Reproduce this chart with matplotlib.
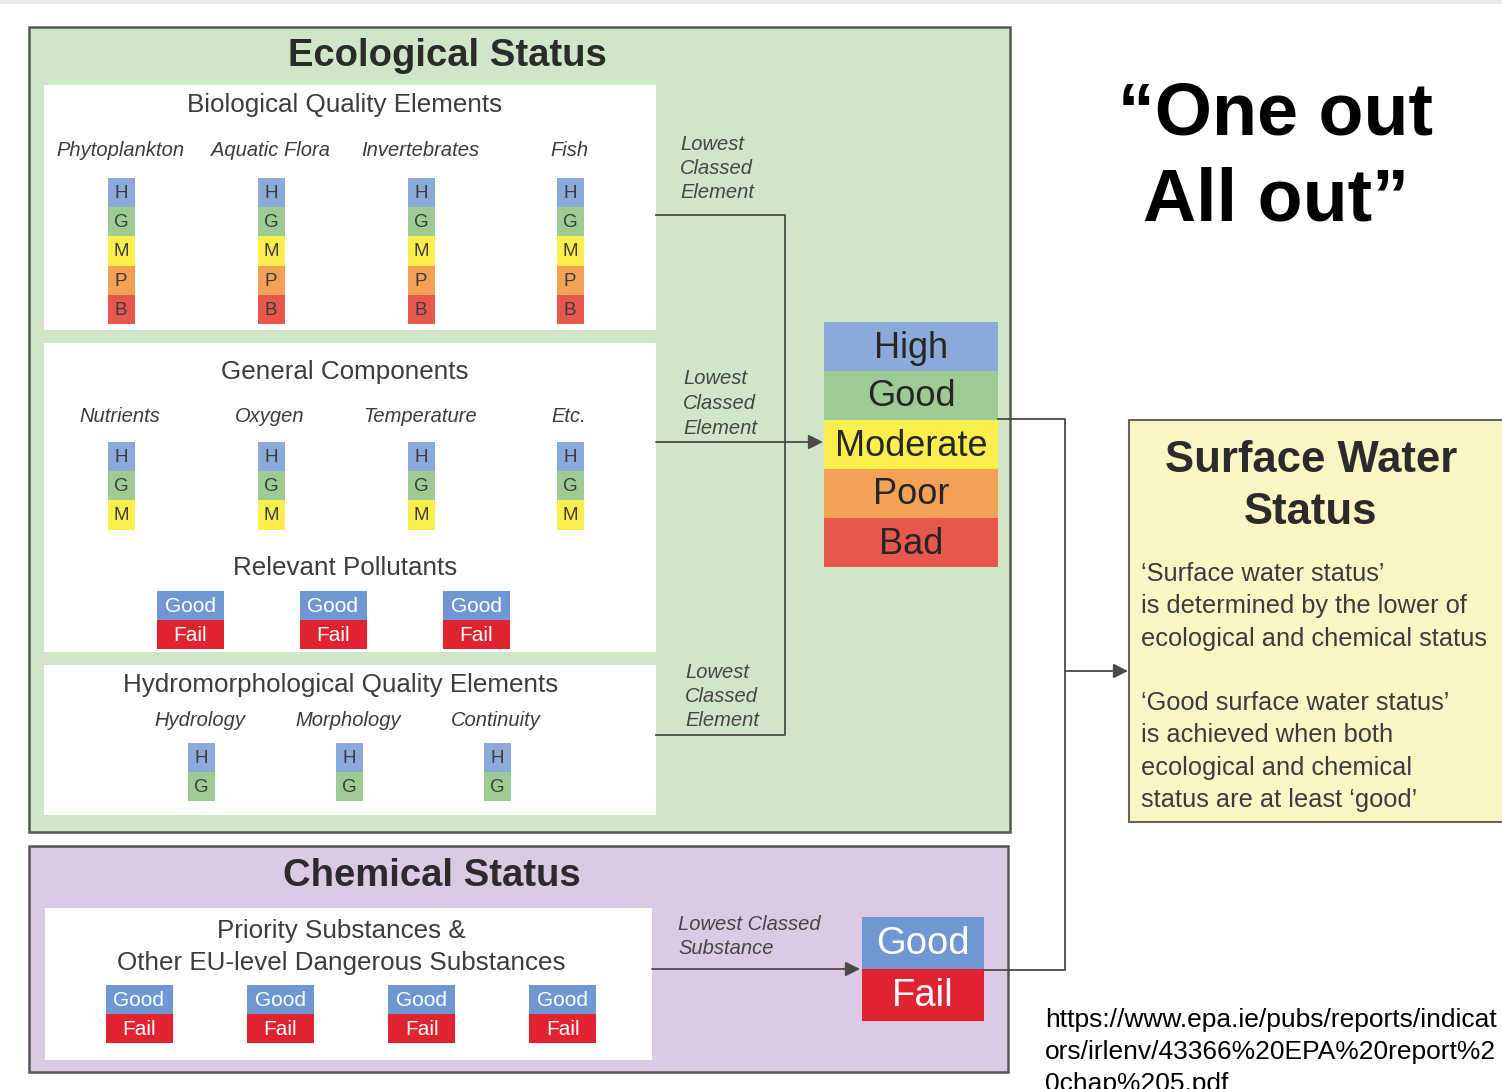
import matplotlib.pyplot as plt
from matplotlib.patches import Rectangle

# grades and labels
grades = ["H", "G", "M", "P", "B"]
grade_colors = ["#8caad9", "#9dcb93", "#fbee4c", "#f3a255", "#e7574c"]
status_classes = ["High", "Good", "Moderate", "Poor", "Bad"]

bio_elements = ["Phytoplankton", "Aquatic Flora", "Invertebrates", "Fish"]
general_elements = ["Nutrients", "Oxygen", "Temperature", "Etc."]
n_general_grades = 3
pollutant_count = 3
hydro_elements = ["Hydrology", "Morphology", "Continuity"]
n_hydro_grades = 2
substance_count = 4
pass_fail = ["Good", "Fail"]
pass_fail_colors = ["#6f97d3", "#e0232f"]

swm_title = ["Surface Water", "Status"]
swm_text1 = ["\u2018Surface water status\u2019", "is determined by the lower of",
             "ecological and chemical status"]
swm_text2 = ["\u2018Good surface water status\u2019", "is achieved when both",
             "ecological and chemical", "status are at least \u2018good\u2019"]
slogan = ["\u201cOne out", "All out\u201d"]
url_lines = ["https://www.epa.ie/pubs/reports/indicat",
             "ors/irlenv/43366%20EPA%20report%2", "0chap%205.pdf"]

plt.rcParams['font.family'] = ['Liberation Sans', 'DejaVu Sans']

W, H = 1502, 1089
fig = plt.figure(figsize=(W / 100, H / 100), dpi=100)
ax = fig.add_axes([0, 0, 1, 1])
ax.set_xlim(0, W)
ax.set_ylim(H, 0)
ax.axis('off')

dark = "#2b2b2b"
mid = "#3c3c3c"
line_c = "#4a4a4a"
sub_fs = 18.7


def box(x0, y0, x1, y1, fc, ec="none", lw=0, z=1):
    ax.add_patch(Rectangle((x0, y0), x1 - x0, y1 - y0, facecolor=fc,
                           edgecolor=ec, linewidth=lw, zorder=z))


def stack(cx, y0, n, cell_w=27, cell_h=29.2):
    for i in range(n):
        box(cx - cell_w / 2, y0 + i * cell_h, cx + cell_w / 2, y0 + (i + 1) * cell_h,
            grade_colors[i], z=3)
        ax.text(cx, y0 + (i + 0.5) * cell_h + 1, grades[i], ha='center', va='center',
                fontsize=13.5, color=mid, zorder=4)


def good_fail(cx, y0, w=67, h=29, fs=15):
    for i, lab in enumerate(pass_fail):
        box(cx - w / 2, y0 + i * h, cx + w / 2, y0 + (i + 1) * h, pass_fail_colors[i], z=3)
        ax.text(cx, y0 + (i + 0.5) * h + 1, lab, ha='center', va='center',
                fontsize=fs, color="white", zorder=4)


def arrow(x0, y0, x1, y1):
    ax.annotate("", xy=(x1, y1), xytext=(x0, y0),
                arrowprops=dict(arrowstyle='-|>', color=line_c, lw=1.3,
                                mutation_scale=22, shrinkA=0, shrinkB=0), zorder=5)


ax.add_patch(Rectangle((0, 0), W, 4, facecolor="#ececec", edgecolor="none", zorder=0))

# ecological status panel
box(29, 27, 1010, 832, "#d0e6c9", ec="#555555", lw=1.8)
ax.text(447, 56, "Ecological Status", ha='center', va='center', fontsize=27.5,
        fontweight='bold', color=dark, zorder=4)

col_x = [120, 270, 420, 569]

# biological
box(44, 85, 656, 330, "white", z=2)
ax.text(345, 105, "Biological Quality Elements", ha='center', va='center',
        fontsize=sub_fs, color=mid, zorder=4)
for cx, name in zip(col_x, bio_elements):
    ax.text(cx, 150, name, ha='center', va='center', fontsize=14.5,
            style='italic', color=mid, zorder=4)
    stack(cx + 1, 178, len(grades))

# general components
box(44, 343, 656, 652, "white", z=2)
ax.text(345, 372, "General Components", ha='center', va='center',
        fontsize=sub_fs, color=mid, zorder=4)
for cx, name in zip(col_x, general_elements):
    ax.text(cx, 416, name, ha='center', va='center', fontsize=14.5,
            style='italic', color=mid, zorder=4)
    stack(cx + 1, 442, n_general_grades)
ax.text(345, 568, "Relevant Pollutants", ha='center', va='center',
        fontsize=sub_fs, color=mid, zorder=4)
for i in range(pollutant_count):
    good_fail(190 + i * 143, 591)

# hydromorphological
box(44, 665, 656, 815, "white", z=2)
ax.text(341, 685, "Hydromorphological Quality Elements", ha='center', va='center',
        fontsize=sub_fs, color=mid, zorder=4)
for i, name in enumerate(hydro_elements):
    cx = 200 + i * 148
    ax.text(cx, 721, name, ha='center', va='center', fontsize=14.5,
            style='italic', color=mid, zorder=4)
    stack(cx + 1, 743, n_hydro_grades)

# lowest classed element labels
for (lx, ly) in [(680, 144), (683, 379), (685, 672)]:
    for j, w in enumerate(["Lowest", "Classed", "Element"]):
        ax.text(lx, ly + j * 24.5, w, ha='left', va='center', fontsize=14.5,
                style='italic', color="#454545", zorder=4)

ax.plot([656, 785, 785, 656], [215, 215, 735, 735], color=line_c, lw=1.3, zorder=5)
arrow(656, 442, 823, 442)

# ecological status result bar
for i, lab in enumerate(status_classes):
    y0 = 322 + i * 49
    box(824, y0, 998, y0 + 49, grade_colors[i], z=3)
    ax.text(911, y0 + 26, lab, ha='center', va='center', fontsize=26,
            color="#262626", zorder=4)

# chemical status panel
box(29, 846, 1008, 1072, "#dcc9e3", ec="#555555", lw=1.8)
ax.text(432, 876, "Chemical Status", ha='center', va='center', fontsize=27.5,
        fontweight='bold', color=dark, zorder=4)
box(45, 908, 652, 1060, "white", z=2)
ax.text(341, 931, "Priority Substances &", ha='center', va='center',
        fontsize=sub_fs, color=mid, zorder=4)
ax.text(341, 963, "Other EU-level Dangerous Substances", ha='center', va='center',
        fontsize=sub_fs, color=mid, zorder=4)
for i in range(substance_count):
    good_fail(139 + i * 141.3, 985)
ax.text(678, 925, "Lowest Classed", ha='left', va='center', fontsize=14.5,
        style='italic', color="#454545", zorder=4)
ax.text(678, 949, "Substance", ha='left', va='center', fontsize=14.5,
        style='italic', color="#454545", zorder=4)
arrow(652, 969, 860, 969)
good_fail(923, 917, w=122, h=52, fs=27.5)

# connectors to surface water status
ax.plot([998, 1065, 1065, 984], [419, 419, 970, 970], color=line_c, lw=1.3, zorder=5)
arrow(1065, 671, 1128, 671)

# surface water status box
box(1129, 420, 1515, 822, "#fcf6c4", ec="#666666", lw=1.5)
for j, t in enumerate(swm_title):
    ax.text(1311, 460 + j * 53, t, ha='center', va='center', fontsize=31.5,
            fontweight='bold', color=dark, zorder=4)
for j, t in enumerate(swm_text1):
    ax.text(1141, 574 + j * 32.5, t, ha='left', va='center', fontsize=18.3,
            color=mid, zorder=4)
for j, t in enumerate(swm_text2):
    ax.text(1141, 703 + j * 32.3, t, ha='left', va='center', fontsize=18.3,
            color=mid, zorder=4)

# slogan
for j, t in enumerate(slogan):
    ax.text(1276, 115 + j * 86, t, ha='center', va='center', fontsize=53,
            fontweight='bold', color="black", zorder=4)

# source url
for j, t in enumerate(url_lines):
    ax.text(1045, 1020 + j * 32, t, ha='left', va='center', fontsize=19,
            color="black", zorder=4)

fig.savefig("out.png", dpi=100)
